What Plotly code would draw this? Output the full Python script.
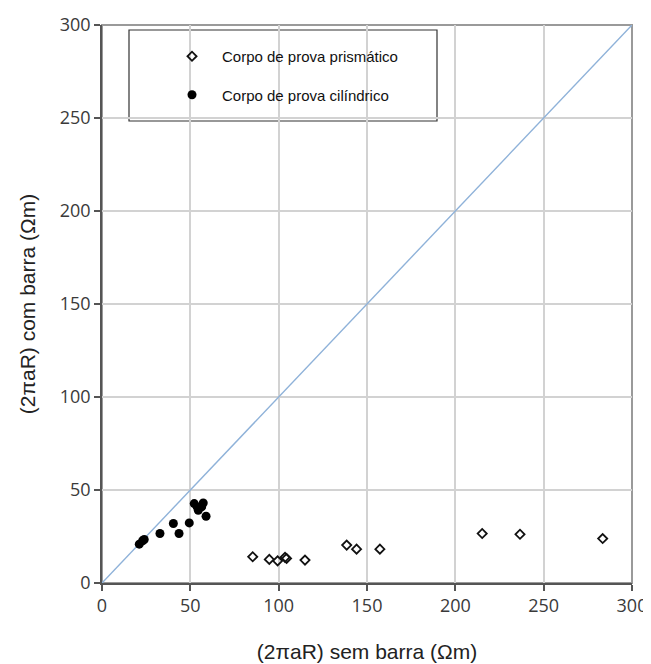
import plotly.graph_objects as go

# ---- data ----
prism_x = [85.3, 94.7, 99.4, 103.6, 104.5, 114.9, 138.5, 144.1, 157.3, 215.2, 236.6, 283.4]
prism_y = [14.1, 12.7, 11.9, 13.8, 13.2, 12.3, 20.4, 18.2, 18.2, 26.6, 26.2, 23.9]

cyl_x = [21.1, 23.0, 23.9, 32.8, 40.4, 43.6, 49.4, 52.2, 53.9, 54.5, 57.3, 56.4, 58.9]
cyl_y = [20.9, 22.7, 23.4, 26.6, 32.0, 26.6, 32.3, 42.7, 40.9, 39.1, 43.0, 40.9, 35.9]

ref_line = [0, 300]
axis_range = [0, 300]
tick_vals = [0, 50, 100, 150, 200, 250, 300]

name_prism = "Corpo de prova prismático"
name_cyl = "Corpo de prova cilíndrico"
x_title = "(2πaR) sem barra (Ωm)"
y_title = "(2πaR) com barra (Ωm)"

W, H = 651, 664
OFF = 8  # page body margin
# target plot area in window pixels: left 102, right 632, top 25, bottom 583
ML, MT = 102 - OFF, 25 - OFF
MR = W - (632 - OFF)
MB = H - (583 - OFF)
pw, ph = W - ML - MR, H - MT - MB

def px_x(p):
    return (p - OFF - ML) / pw

def px_y(p):
    return 1 - (p - OFF - MT) / ph

fig = go.Figure()
fig.add_trace(go.Scatter(x=ref_line, y=ref_line, mode="lines",
                         line=dict(color="#8fb2d9", width=1.4),
                         showlegend=False, hoverinfo="skip"))
fig.add_trace(go.Scatter(x=prism_x, y=prism_y, mode="markers", name=name_prism,
                         legendgroup="a",
                         marker=dict(symbol="diamond-open", size=7, color="#111",
                                     line=dict(width=1.8, color="#111"))))
fig.add_trace(go.Scatter(x=cyl_x, y=cyl_y, mode="markers", name=name_cyl,
                         legendgroup="b",
                         marker=dict(symbol="circle", size=9, color="#000")))

tickfont = dict(family="Open Sans", size=18, color="#3a3a3a")
titlefont = dict(family="Liberation Sans", size=21, color="#222")

fig.update_xaxes(range=axis_range, tickvals=tick_vals, showgrid=True,
                 gridcolor="#d2d2d2", gridwidth=1.5, zeroline=False,
                 showline=True, linecolor="#555", linewidth=1.5,
                 ticks="outside", ticklen=6, tickcolor="#555", tickwidth=1.5,
                 tickfont=tickfont,
                 title=dict(text=x_title, font=titlefont, standoff=28))
fig.update_yaxes(range=axis_range, tickvals=tick_vals, showgrid=True,
                 gridcolor="#d2d2d2", gridwidth=1.5, zeroline=False,
                 showline=True, linecolor="#555", linewidth=1.5,
                 ticks="outside", ticklen=6, tickcolor="#555", tickwidth=1.5,
                 tickfont=tickfont,
                 title=dict(text=y_title, font=titlefont, standoff=18))

# frame (top/right) and legend box
fig.add_shape(type="rect", xref="paper", yref="paper", x0=0, y0=0, x1=1, y1=1,
              line=dict(color="#9a9a9a", width=2), layer="below")
fig.add_shape(type="rect", xref="paper", yref="paper",
              x0=px_x(129), x1=px_x(437), y0=px_y(121), y1=px_y(30),
              line=dict(color="#333", width=1.2), fillcolor="white", layer="below")

fig.update_layout(
    width=W, height=H,
    margin=dict(l=ML, r=MR, t=MT, b=MB, autoexpand=False),
    paper_bgcolor="white", plot_bgcolor="white",
    legend=dict(x=px_x(162), y=px_y(40), xanchor="left", yanchor="top",
                bgcolor="rgba(0,0,0,0)", borderwidth=0,
                font=dict(family="Liberation Sans", size=15, color="#111"),
                traceorder="grouped", tracegroupgap=16, itemwidth=50),
)

fig.write_html("out.html")
